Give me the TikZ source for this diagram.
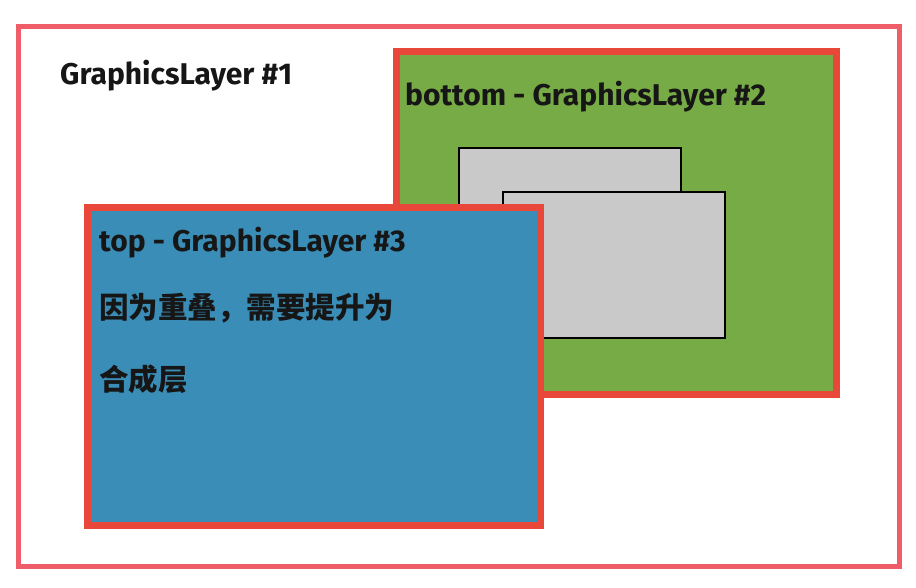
\documentclass[tikz,border=0pt]{standalone}
\usepackage{fontspec}
\setmainfont{Fira Sans}
\newfontfamily\cjk{Noto Sans CJK SC}
\usetikzlibrary{shadows}

\definecolor{layerred}{HTML}{E8473A}
\definecolor{outerred}{HTML}{EF5E68}
\definecolor{bottomgreen}{HTML}{77AB45}
\definecolor{topblue}{HTML}{3A8DB6}
\definecolor{tilegray}{HTML}{C9C9C9}
\definecolor{inktext}{HTML}{161616}

\tikzset{
  layerbox/.style={line width=7pt, draw=layerred,
    drop shadow={shadow xshift=3pt, shadow yshift=-4pt, opacity=0.3}},
  tilebox/.style={fill=tilegray, draw=black, line width=1.2pt},
  layertext/.style={anchor=base west, inner sep=0pt, text=inktext,
    font=\fontsize{30}{34}\selectfont\bfseries},
  cjktext/.style={anchor=base west, inner sep=0pt, text=inktext,
    font=\fontsize{29.5}{34}\selectfont\cjk\bfseries}
}

\begin{document}
\begin{tikzpicture}[x=1pt, y=-1pt]
  \useasboundingbox (0,0) rectangle (916,588);
  % GraphicsLayer #1, the page
  \draw[outerred, line width=5pt] (18,27) rectangle (899,566);
  \node[layertext] (l1) at (60,85) {GraphicsLayer \#1};
  % bottom layer with its two tiles
  \path[layerbox, fill=bottomgreen] (396,52) rectangle (836,394);
  \node[layertext] (l2) at (405,106) {bottom - GraphicsLayer \#2};
  \filldraw[tilebox] (459,148) rectangle (681,300);
  \filldraw[tilebox] (503,192) rectangle (725,338);
  % top layer, overlapping the bottom one
  \path[layerbox, fill=topblue] (87,208) rectangle (540,525);
  \node[layertext] (l3) at (99,252) {top - GraphicsLayer \#3};
  \node[cjktext] (why) at (99,318) {因为重叠，需要提升为};
  \node[cjktext] (comp) at (99,390) {合成层};
\end{tikzpicture}
\end{document}
